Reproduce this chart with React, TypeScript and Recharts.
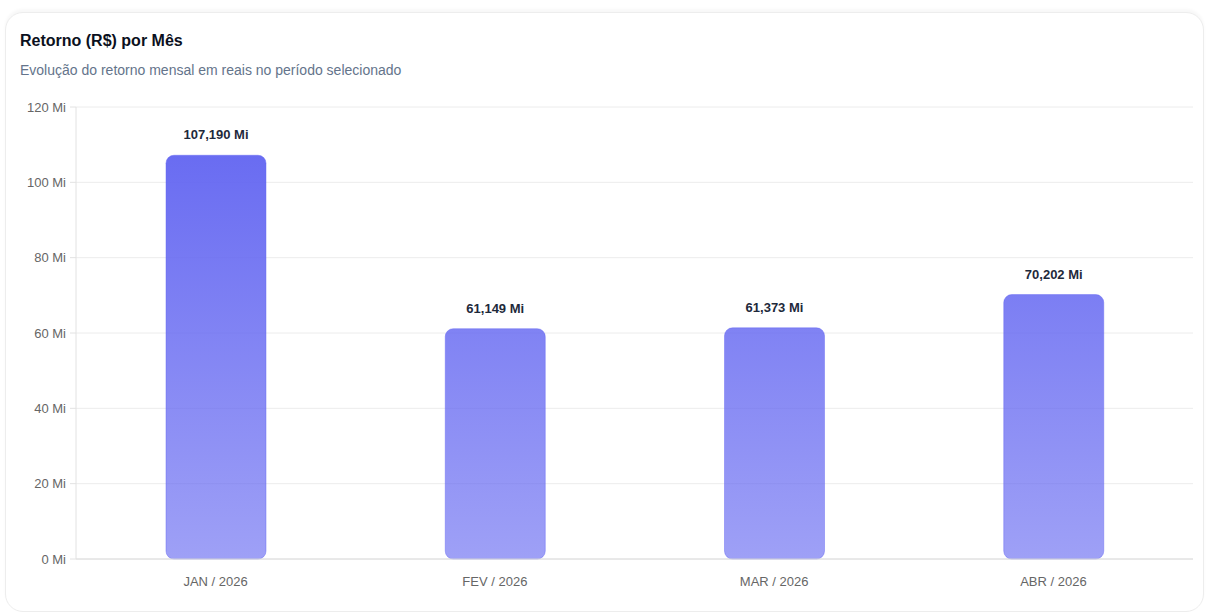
import { BarChart, Bar, XAxis, YAxis, CartesianGrid, LabelList } from "recharts";

const months = ["JAN / 2026", "FEV / 2026", "MAR / 2026", "ABR / 2026"];
const retornoMi = [107.19, 61.149, 61.373, 70.202];
const yTicks = [0, 20, 40, 60, 80, 100, 120];

const data = months.map((m, i) => ({ month: m, value: retornoMi[i] }));

const FONT = "'Liberation Sans', Arial, sans-serif";

const formatMi = (v: number) => `${v.toFixed(3).replace(".", ",")} Mi`;

export default function App() {
  return (
    <div
      style={{
        position: "fixed",
        left: 0,
        top: 0,
        width: 1207,
        height: 614,
        background: "#ffffff",
        fontFamily: FONT,
        overflow: "hidden",
      }}
    >
      {/* card */}
      <div
        style={{
          position: "absolute",
          left: 5,
          top: 12,
          width: 1197,
          height: 598,
          background: "#fff",
          borderRadius: 18,
          border: "1px solid #ededed",
          boxShadow: "0 -3px 3px rgba(0,0,0,0.03)",
        }}
      />
      <div
        style={{
          position: "absolute",
          left: 20,
          top: 32,
          fontSize: 16,
          fontWeight: 700,
          color: "#0b1020",
          lineHeight: "18px",
        }}
      >
        Retorno (R$) por Mês
      </div>
      <div
        style={{
          position: "absolute",
          left: 20,
          top: 62,
          fontSize: 14,
          color: "#64748b",
          lineHeight: "16px",
        }}
      >
        Evolução do retorno mensal em reais no período selecionado
      </div>
      <div style={{ position: "absolute", left: 0, top: 90 }}>
        <BarChart
          width={1207}
          height={524}
          data={data}
          margin={{ top: 17, right: 14, left: 16, bottom: 25 }}
          barSize={100}
        >
          <defs>
            <linearGradient id="barGrad" gradientUnits="userSpaceOnUse" x1="0" y1="17" x2="0" y2="469">
              <stop offset="0%" stopColor="#6366f1" stopOpacity={1} />
              <stop offset="100%" stopColor="#6366f1" stopOpacity={0.62} />
            </linearGradient>
          </defs>
          <CartesianGrid vertical={false} stroke="#ececec" />
          <XAxis
            dataKey="month"
            tickLine={false}
            axisLine={{ stroke: "#dcdcdc" }}
            tick={{ fill: "#666", fontSize: 13, fontFamily: FONT }}
            tickMargin={12}
          />
          <YAxis
            width={60}
            domain={[0, 120]}
            ticks={yTicks}
            tickFormatter={(v: number) => `${v} Mi`}
            axisLine={{ stroke: "#e2e2e2" }}
            tickLine={{ stroke: "#e2e2e2" }}
            tick={{ fill: "#666", fontSize: 13, fontFamily: FONT }}
            tickMargin={4}
          />
          <Bar
            dataKey="value"
            fill="url(#barGrad)"
            stroke="#6366f1"
            strokeOpacity={0.45}
            radius={[8, 8, 8, 8]}
            isAnimationActive={false}
          >
            <LabelList
              dataKey="value"
              position="top"
              offset={16}
              formatter={(v: number) => formatMi(v)}
              style={{ fill: "#1e293b", fontSize: 13, fontWeight: 700, fontFamily: FONT }}
            />
          </Bar>
        </BarChart>
      </div>
    </div>
  );
}
